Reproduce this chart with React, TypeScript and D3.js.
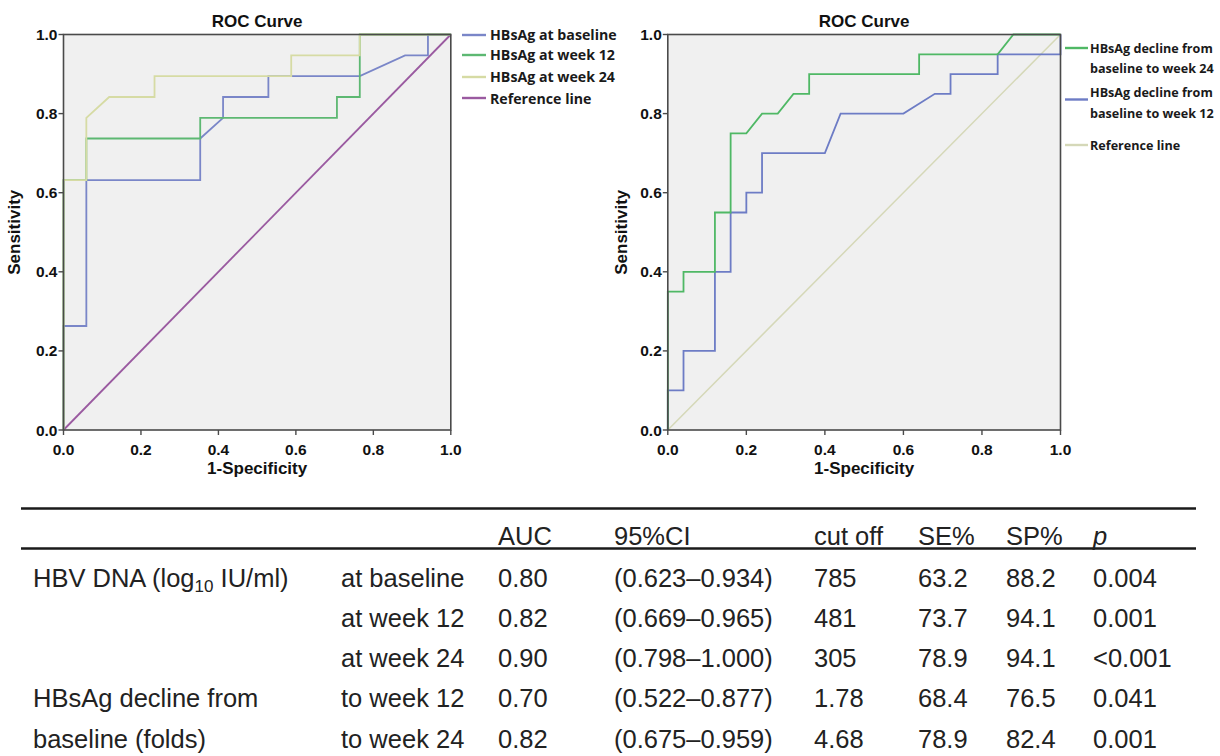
import React from "react";
import * as d3 from "d3";

// ---------- Data ----------
const ticks = [0, 0.2, 0.4, 0.6, 0.8, 1.0];

// Left panel: [1-specificity, sensitivity]
const hbsagBaseline: [number, number][] = [
  [0, 0], [0, 0.263], [0.059, 0.263], [0.059, 0.632], [0.353, 0.632], [0.353, 0.737],
  [0.412, 0.789], [0.412, 0.842], [0.529, 0.842], [0.529, 0.895], [0.765, 0.895],
  [0.882, 0.947], [0.941, 0.947], [0.941, 1], [1, 1],
];
const hbsagWeek12: [number, number][] = [
  [0, 0], [0, 0.632], [0.059, 0.632], [0.059, 0.737], [0.353, 0.737], [0.353, 0.789],
  [0.706, 0.789], [0.706, 0.842], [0.765, 0.842], [0.765, 1], [1, 1],
];
const hbsagWeek24: [number, number][] = [
  [0, 0], [0, 0.632], [0.059, 0.632], [0.059, 0.789], [0.118, 0.842], [0.235, 0.842],
  [0.235, 0.895], [0.588, 0.895], [0.588, 0.947], [0.765, 0.947], [0.765, 1], [1, 1],
];
const referenceLine: [number, number][] = [[0, 0], [1, 1]];

// Right panel
const declineWeek24: [number, number][] = [
  [0, 0], [0, 0.35], [0.04, 0.35], [0.04, 0.40], [0.12, 0.40], [0.12, 0.55], [0.16, 0.55],
  [0.16, 0.75], [0.20, 0.75], [0.24, 0.80], [0.28, 0.80], [0.32, 0.85], [0.36, 0.85],
  [0.36, 0.90], [0.64, 0.90], [0.64, 0.95], [0.84, 0.95], [0.88, 1.0], [1, 1],
];
const declineWeek12: [number, number][] = [
  [0, 0], [0, 0.10], [0.04, 0.10], [0.04, 0.20], [0.12, 0.20], [0.12, 0.40], [0.16, 0.40],
  [0.16, 0.55], [0.20, 0.55], [0.20, 0.60], [0.24, 0.60], [0.24, 0.70], [0.40, 0.70],
  [0.44, 0.80], [0.60, 0.80], [0.68, 0.85], [0.72, 0.85], [0.72, 0.90], [0.84, 0.90],
  [0.84, 0.95], [1, 0.95], [1, 1],
];

// Table
const tableHeaders = ["AUC", "95%CI", "cut off", "SE%", "SP%", "p"];
const rowGroups = ["HBV DNA (log", "", "", "HBsAg decline from", "baseline (folds)"];
const rowLabels = ["at baseline", "at week 12", "at week 24", "to week 12", "to week 24"];
const aucValues = ["0.80", "0.82", "0.90", "0.70", "0.82"];
const ciValues = ["(0.623–0.934)", "(0.669–0.965)", "(0.798–1.000)", "(0.522–0.877)", "(0.675–0.959)"];
const cutoffValues = ["785", "481", "305", "1.78", "4.68"];
const seValues = ["63.2", "73.7", "78.9", "68.4", "78.9"];
const spValues = ["88.2", "94.1", "94.1", "76.5", "82.4"];
const pValues = ["0.004", "0.001", "<0.001", "0.041", "0.001"];

// ---------- Styles ----------
const AX = "Liberation Sans, Arial, sans-serif";
const LEG = "'Open Sans', 'Noto Sans', sans-serif";
const C_BLUE = "#7a86c8";
const C_GREEN = "#5db872";
const C_YELLOW = "#d6dba4";
const C_PURPLE = "#9a5aa0";
const C_R_GREEN = "#4fb865";
const C_R_BLUE = "#6d7cc5";
const C_R_REF = "#d5d8b8";

type Series = { data: [number, number][]; color: string; width?: number };

function RocPanel({ x0, x1, y0, y1, series, ylabelX }: {
  x0: number; x1: number; y0: number; y1: number; series: Series[]; ylabelX: number;
}) {
  const xs = d3.scaleLinear().domain([0, 1]).range([x0, x1]);
  const ys = d3.scaleLinear().domain([0, 1]).range([y0, y1]);
  const line = d3.line<[number, number]>().x((d) => xs(d[0])).y((d) => ys(d[1]));
  const cx = (x0 + x1) / 2;
  return (
    <g>
      <rect x={x0} y={y1} width={x1 - x0} height={y0 - y1} fill="#f0f0f0" />
      {series.map((s, i) => (
        <path key={i} d={line(s.data) || ""} fill="none" stroke={s.color} strokeWidth={s.width ?? 1.8} />
      ))}
      <rect x={x0} y={y1} width={x1 - x0} height={y0 - y1} fill="none" stroke="#4a4a4a" strokeWidth={1.6} />
      {ticks.map((t) => (
        <g key={"x" + t}>
          <line x1={xs(t)} x2={xs(t)} y1={y0} y2={y0 + 5} stroke="#4a4a4a" strokeWidth={1.4} />
          <text x={xs(t)} y={y0 + 25} textAnchor="middle" fontFamily={AX} fontWeight="bold" fontSize={15.5} fill="#111">
            {t.toFixed(1)}
          </text>
        </g>
      ))}
      {ticks.map((t) => (
        <g key={"y" + t}>
          <line x1={x0 - 5} x2={x0} y1={ys(t)} y2={ys(t)} stroke="#4a4a4a" strokeWidth={1.4} />
          <text x={x0 - 6} y={ys(t) + 5.5} textAnchor="end" fontFamily={AX} fontWeight="bold" fontSize={15.5} fill="#111">
            {t.toFixed(1)}
          </text>
        </g>
      ))}
      <text x={cx} y={y1 - 8} textAnchor="middle" fontFamily={AX} fontWeight="bold" fontSize={17} fill="#111">
        ROC Curve
      </text>
      <text x={cx} y={y0 + 44} textAnchor="middle" fontFamily={AX} fontWeight="bold" fontSize={17} fill="#111">
        1-Specificity
      </text>
      <text
        transform={`translate(${ylabelX},${(y0 + y1) / 2}) rotate(-90)`}
        textAnchor="middle"
        fontFamily={AX}
        fontWeight="bold"
        fontSize={17}
        fill="#111"
      >
        Sensitivity
      </text>
    </g>
  );
}

function LegendItem({ x, y, color, lines, textY }: { x: number; y: number; color: string; lines: string[]; textY: number[] }) {
  return (
    <g>
      <line x1={x} x2={x + 24} y1={y} y2={y} stroke={color} strokeWidth={2.4} />
      {lines.map((l, i) => (
        <text key={i} x={x + 28} y={textY[i] + 5} fontFamily={LEG} fontWeight="bold" fontSize={14.2} fill="#1a1a1a">
          {l}
        </text>
      ))}
    </g>
  );
}

export default function App() {
  const colX = [33, 341, 498, 614, 814, 918, 1006, 1093];
  const rowY = [578, 618, 658, 698, 739];
  const TF = 25.5;
  const tcol = "#222";
  const RL = 12.6;
  return (
    <svg width={1220} height={756} style={{ position: "absolute", left: 0, top: 0, background: "#fff" }}>
      <RocPanel
        x0={63.5} x1={450.8} y0={430} y1={34.5} ylabelX={20}
        series={[
          { data: referenceLine, color: C_PURPLE },
          { data: hbsagBaseline, color: C_BLUE },
          { data: hbsagWeek12, color: C_GREEN },
          { data: hbsagWeek24, color: C_YELLOW },
        ]}
      />
      <RocPanel
        x0={667.8} x1={1060.5} y0={430} y1={34.5} ylabelX={627}
        series={[
          { data: referenceLine, color: C_R_REF, width: 1.5 },
          { data: declineWeek12, color: C_R_BLUE },
          { data: declineWeek24, color: C_R_GREEN },
        ]}
      />
      {/* Left legend */}
      <LegendItem x={462} y={35} color={C_BLUE} lines={["HBsAg at baseline"]} textY={[35]} />
      <LegendItem x={462} y={55} color={C_GREEN} lines={["HBsAg at week 12"]} textY={[55]} />
      <LegendItem x={462} y={77} color={C_YELLOW} lines={["HBsAg at week 24"]} textY={[77]} />
      <LegendItem x={462} y={98} color={C_PURPLE} lines={["Reference line"]} textY={[99]} />
      {/* Right legend */}
      <g fontFamily={LEG} fontWeight="bold" fontSize={RL} fill="#1a1a1a">
        <line x1={1065} x2={1088} y1={48} y2={48} stroke={C_R_GREEN} strokeWidth={2.4} />
        <text x={1090} y={52.5}>HBsAg decline from</text>
        <text x={1090} y={73}>baseline to week 24</text>
        <line x1={1065} x2={1088} y1={99.5} y2={99.5} stroke={C_R_BLUE} strokeWidth={2.4} />
        <text x={1090} y={97}>HBsAg decline from</text>
        <text x={1090} y={117.5}>baseline to week 12</text>
        <line x1={1065} x2={1088} y1={145} y2={145} stroke={C_R_REF} strokeWidth={2.4} />
        <text x={1090} y={149.5}>Reference line</text>
      </g>
      {/* Table */}
      <line x1={21} x2={1196} y1={508.5} y2={508.5} stroke="#1a1a1a" strokeWidth={2.6} />
      <line x1={21} x2={1196} y1={548.5} y2={548.5} stroke="#1a1a1a" strokeWidth={2.6} />
      {tableHeaders.map((h, i) => (
        <text key={h} x={colX[i + 2]} y={536 + 9} fontFamily={AX} fontSize={TF} fill={tcol} fontStyle={h === "p" ? "italic" : "normal"}>
          {h}
        </text>
      ))}
      {rowGroups.map((g, i) =>
        g ? (
          <text key={"g" + i} x={colX[0]} y={rowY[i] + 9} fontFamily={AX} fontSize={TF} fill={tcol}>
            {g}
            {i === 0 ? (
              <>
                <tspan fontSize={17} dy={5}>10</tspan>
                <tspan dy={-5}> IU/ml)</tspan>
              </>
            ) : null}
          </text>
        ) : null
      )}
      {rowLabels.map((r, i) => (
        <g key={"r" + i} fontFamily={AX} fontSize={TF} fill={tcol}>
          <text x={colX[1]} y={rowY[i] + 9}>{r}</text>
          <text x={colX[2]} y={rowY[i] + 9}>{aucValues[i]}</text>
          <text x={colX[3]} y={rowY[i] + 9}>{ciValues[i]}</text>
          <text x={colX[4]} y={rowY[i] + 9}>{cutoffValues[i]}</text>
          <text x={colX[5]} y={rowY[i] + 9}>{seValues[i]}</text>
          <text x={colX[6]} y={rowY[i] + 9}>{spValues[i]}</text>
          <text x={colX[7]} y={rowY[i] + 9}>{pValues[i]}</text>
        </g>
      ))}
    </svg>
  );
}
